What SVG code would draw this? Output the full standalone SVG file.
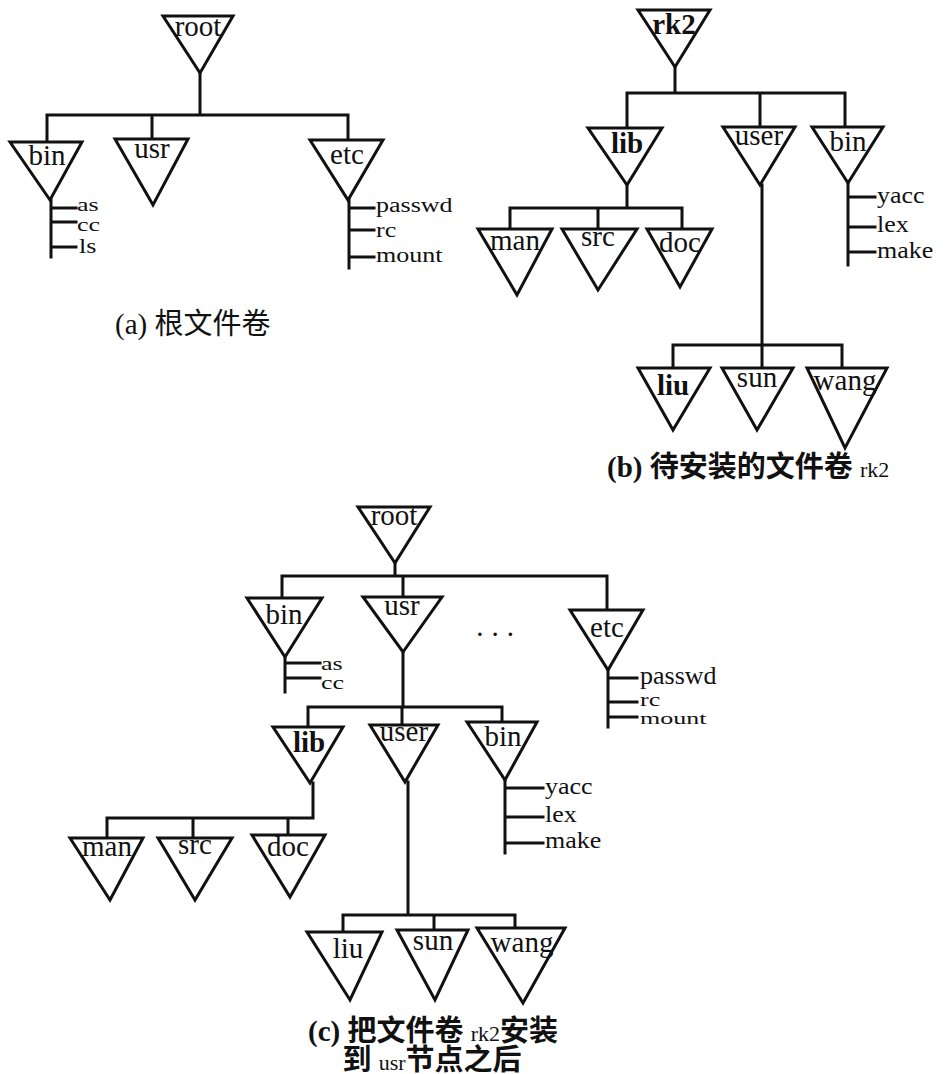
<svg xmlns="http://www.w3.org/2000/svg" width="946" height="1074" viewBox="0 0 946 1074">
<style>
.tri{fill:#fff;stroke:#111;stroke-width:3;stroke-linejoin:miter}
.ln{fill:none;stroke:#111;stroke-width:3;stroke-linecap:square}
.lb{font-family:"Liberation Serif","DejaVu Serif",serif;font-size:29px;fill:#111;text-anchor:middle}
.bd{font-weight:bold}
.lf{font-family:"Liberation Serif","DejaVu Serif",serif;font-size:26px;fill:#111}
.cap{font-family:"Liberation Serif","Noto Sans CJK SC",serif;font-size:29px;fill:#111}
.rk{font-family:"Liberation Serif",serif;font-size:22px;font-weight:normal}
</style>
<rect width="946" height="1074" fill="#fff"/>

<g id="connectors">
  <!-- (a) -->
  <path class="ln" d="M200,73V115M47,115H348M47,115V142M152,115V139M348,115V140"/>
  <path class="ln" d="M51,200V257M51,208H76M51,222H76M51,247H76"/>
  <path class="ln" d="M349,200V268M349,208H374M349,230H374M349,257H374"/>
  <!-- (b) -->
  <path class="ln" d="M675,67V93M627,93H845M627,93V128M760,93V127M845,93V127"/>
  <path class="ln" d="M848,183V265M848,197H875M848,227H875M848,252H875"/>
  <path class="ln" d="M627,185V208M510,208H682M510,208V229M598,208V229M682,208V229"/>
  <path class="ln" d="M762,185V345M673,345H842M673,345V368M762,345V368M842,345V368"/>
  <!-- (c) -->
  <path class="ln" d="M395,563V576M282,576H607M282,576V598M403,576V597M607,576V610"/>
  <path class="ln" d="M285,657V692M285,663H320M285,678H320"/>
  <path class="ln" d="M608,670V727M608,678H637M608,702H637M608,717H637"/>
  <path class="ln" d="M403,652V707M308,707H502M308,707V727M402,707V725M502,707V722"/>
  <path class="ln" d="M313,783V818M107,818H313M107,818V838M193,818V838M288,818V835"/>
  <path class="ln" d="M505,780V853M505,788H543M505,817H543M505,843H543"/>
  <path class="ln" d="M408,782V915M343,915H515M343,915V932M434,915V930M515,915V928"/>
</g>

<!-- (a) root file volume -->
<g id="a-root"><polygon class="tri" points="163,16 233,16 200,73"/><text class="lb" x="198" y="36">root</text></g>
<g id="a-bin"><polygon class="tri" points="10,142 82,142 50,200"/><text class="lb" x="47" y="165">bin</text></g>
<g id="a-bin-files">
  <text class="lf" font-size="24" transform="translate(77,211) scale(1,0.7)">as</text>
  <text class="lf" font-size="24" transform="translate(77,231) scale(1,0.7)">cc</text>
  <text class="lf" font-size="25" transform="translate(79,253) scale(1,0.78)">ls</text>
</g>
<g id="a-usr"><polygon class="tri" points="115,139 188,139 153,205"/><text class="lb" x="152" y="158">usr</text></g>
<g id="a-etc"><polygon class="tri" points="310,140 383,140 348,200"/><text class="lb" x="347" y="164">etc</text></g>
<g id="a-etc-files">
  <text class="lf" transform="translate(376,212) scale(1,0.84)">passwd</text>
  <text class="lf" transform="translate(376,237) scale(1,0.84)">rc</text>
  <text class="lf" transform="translate(376,262) scale(1,0.84)">mount</text>
</g>
<text class="cap" x="115" y="334">(a) 根文件卷</text>

<!-- (b) rk2 -->
<g id="b-rk2"><polygon class="tri" points="638,10 710,10 675,67"/><text class="lb bd" x="674" y="34" font-size="26">rk2</text></g>
<g id="b-lib"><polygon class="tri" points="588,128 662,128 627,185"/><text class="lb bd" x="627" y="153">lib</text></g>
<g id="b-user"><polygon class="tri" points="723,127 795,127 760,185"/><text class="lb" x="759" y="145">user</text></g>
<g id="b-bin"><polygon class="tri" points="812,127 883,127 848,183"/><text class="lb" x="848" y="151">bin</text></g>
<g id="b-bin-files">
  <text class="lf" transform="translate(877,203) scale(1,0.88)">yacc</text>
  <text class="lf" transform="translate(877,232) scale(1,0.88)">lex</text>
  <text class="lf" transform="translate(877,258) scale(1,0.88)">make</text>
</g>
<g id="b-man"><polygon class="tri" points="478,229 552,229 517,295"/><text class="lb" x="515" y="250">man</text></g>
<g id="b-src"><polygon class="tri" points="562,229 637,229 598,290"/><text class="lb" x="598" y="246">src</text></g>
<g id="b-doc"><polygon class="tri" points="647,229 712,229 680,287"/><text class="lb" x="680" y="252">doc</text></g>
<g id="b-liu"><polygon class="tri" points="638,368 710,368 673,430"/><text class="lb bd" x="673" y="395">liu</text></g>
<g id="b-sun"><polygon class="tri" points="722,368 793,368 757,430"/><text class="lb" x="757" y="387">sun</text></g>
<g id="b-wang"><polygon class="tri" points="807,368 887,368 845,448"/><text class="lb" x="845" y="390">wang</text></g>
<text class="cap bd" x="607" y="477">(b) 待安装的文件卷 <tspan class="rk">rk2</tspan></text>

<!-- (c) after mounting -->
<g id="c-root"><polygon class="tri" points="358,507 430,507 395,563"/><text class="lb" x="394" y="525">root</text></g>
<g id="c-bin"><polygon class="tri" points="247,598 322,598 285,657"/><text class="lb" x="284" y="624">bin</text></g>
<g id="c-bin-files">
  <text class="lf" font-size="24" transform="translate(321,670) scale(1,0.7)">as</text>
  <text class="lf" font-size="24" transform="translate(321,689) scale(1,0.7)">cc</text>
</g>
<g id="c-usr"><polygon class="tri" points="363,597 442,597 403,652"/><text class="lb" x="402" y="615">usr</text></g>
<text class="lb" x="499" y="636" letter-spacing="8">...</text>
<g id="c-etc"><polygon class="tri" points="570,610 643,610 608,670"/><text class="lb" x="607" y="637">etc</text></g>
<g id="c-etc-files">
  <text class="lf" x="640" y="684">passwd</text>
  <text class="lf" font-size="21" transform="translate(640,706) scale(1,0.72)">rc</text>
  <text class="lf" font-size="25" transform="translate(640,724) scale(1,0.63)">mount</text>
</g>
<g id="c-lib"><polygon class="tri" points="273,727 343,727 310,783"/><text class="lb bd" x="309" y="752">lib</text></g>
<g id="c-user"><polygon class="tri" points="370,725 438,725 405,782"/><text class="lb" x="404" y="741">user</text></g>
<g id="c-bin2"><polygon class="tri" points="467,722 537,722 505,780"/><text class="lb" x="503" y="746">bin</text></g>
<g id="c-bin2-files">
  <text class="lf" transform="translate(545,794) scale(1,0.88)">yacc</text>
  <text class="lf" transform="translate(545,822) scale(1,0.88)">lex</text>
  <text class="lf" transform="translate(545,848) scale(1,0.88)">make</text>
</g>
<g id="c-man"><polygon class="tri" points="70,838 143,838 110,900"/><text class="lb" x="107" y="856">man</text></g>
<g id="c-src"><polygon class="tri" points="158,838 232,838 195,900"/><text class="lb" x="195" y="854">src</text></g>
<g id="c-doc"><polygon class="tri" points="252,835 325,835 290,897"/><text class="lb" x="288" y="856">doc</text></g>
<g id="c-liu"><polygon class="tri" points="307,932 382,932 350,1000"/><text class="lb" x="348" y="958">liu</text></g>
<g id="c-sun"><polygon class="tri" points="397,930 468,930 435,1000"/><text class="lb" x="433" y="950">sun</text></g>
<g id="c-wang"><polygon class="tri" points="477,928 565,928 523,1003"/><text class="lb" x="522" y="952">wang</text></g>
<text class="cap bd" x="433" y="1041" text-anchor="middle">(c) 把文件卷 <tspan class="rk">rk2</tspan>安装</text>
<text class="cap bd" x="432" y="1070" text-anchor="middle">到 <tspan class="rk">usr</tspan>节点之后</text>
</svg>
